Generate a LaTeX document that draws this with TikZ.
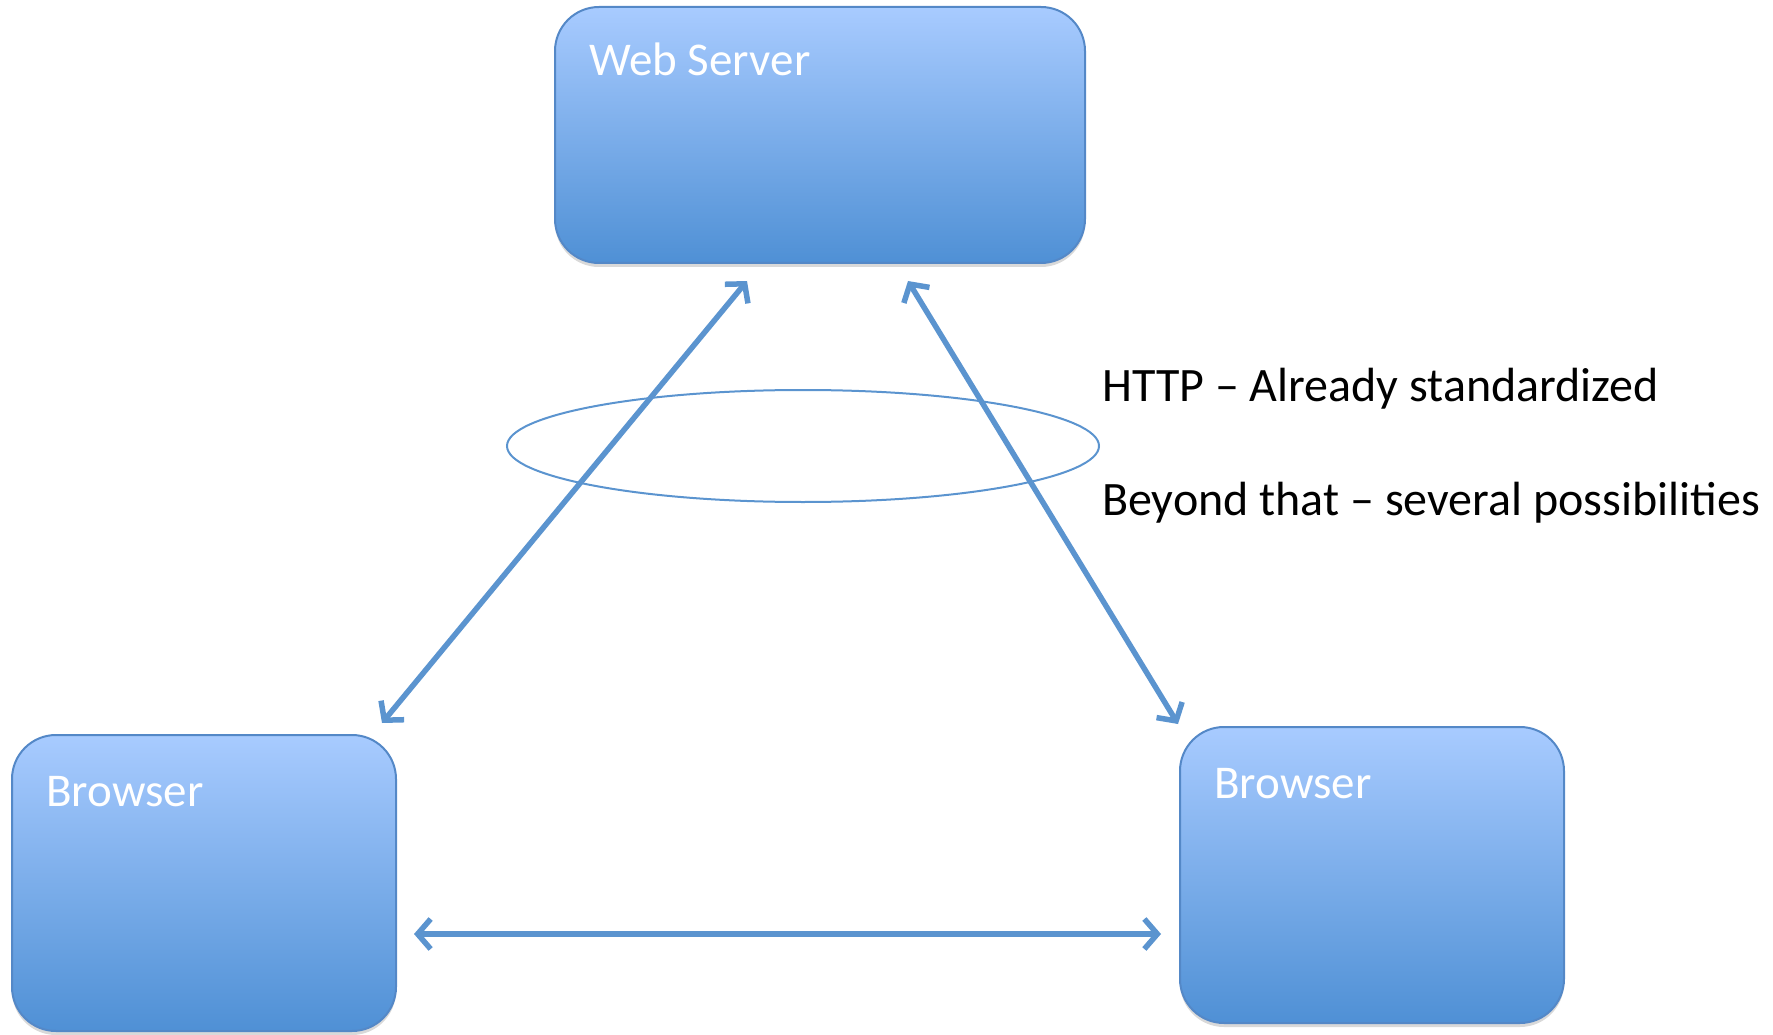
\documentclass[tikz,border=0pt]{standalone}
\usepackage{fontspec}
\setmainfont{Carlito}
\usepackage{tikz}
\usetikzlibrary{arrows.meta,shadows,shapes.geometric,calc}

\definecolor{boxtop}{RGB}{168,203,255}
\definecolor{boxbot}{RGB}{79,144,213}
\definecolor{boxline}{RGB}{84,136,199}
\definecolor{linkblue}{RGB}{91,148,207}

\tikzset{
  tier/.style={draw=boxline, line width=2pt, rounded corners=44pt,
    top color=boxtop, bottom color=boxbot, inner sep=0pt,
    drop shadow={shadow xshift=0pt, shadow yshift=-4pt, opacity=0.3}},
  tiername/.style={anchor=base west, text=white, inner sep=0pt,
    font=\fontsize{47}{56}\selectfont},
  note/.style={anchor=base west, inner sep=0pt, font=\fontsize{48}{58}\selectfont},
  ring/.style={ellipse, draw=linkblue, line width=2pt, inner sep=0pt,
    minimum width=592pt, minimum height=112pt},
  link/.style={draw=linkblue, line width=5.5pt,
    {Straight Barb[length=13pt,width=30pt,line width=5.5pt]}-{Straight Barb[length=13pt,width=30pt,line width=5.5pt]}},
}

\begin{document}
\begin{tikzpicture}[x=1pt,y=-1pt]
\useasboundingbox (0,0) rectangle (1773,1035);

% boxes
\node [tier, minimum width=530pt, minimum height=256pt] (server) at (820,135) {};
\node [tier, minimum width=384pt, minimum height=296pt] (clientL) at (204,883) {};
\node [tier, minimum width=384pt, minimum height=296pt] (clientR) at (1372,875) {};

\node [tiername] (serverlbl) at ($(server.north west)+(35,70)$) {Web Server};
\node [tiername] (clientLlbl) at ($(clientL.north west)+(35,72)$) {Browser};
\node [tiername] (clientRlbl) at ($(clientR.north west)+(35,72)$) {Browser};

% protocol ring
\node [ring] (proto) at (803,446) {};

% arrow ends
\coordinate (sL) at ($(server.south)+(-73,17)$);
\coordinate (cL) at ($(clientL.north east)+(-15,-11)$);
\coordinate (sR) at ($(server.south)+(88,17)$);
\coordinate (cR) at ($(clientR.north west)+(-1,-2)$);
\coordinate (hL) at ($(clientL.east)+(17,51)$);
\coordinate (hR) at ($(clientR.west)+(-18,59)$);

\draw [link] (cL) -- (sL);
\draw [link] (sR) -- (cR);
\draw [link] (hL) -- (hR);

% notes
\node [note] (http) at (1102,401) {HTTP – Already standardized};
\node [note] (beyond) at (1102,515) {Beyond that – several possibilities};
\end{tikzpicture}
\end{document}
